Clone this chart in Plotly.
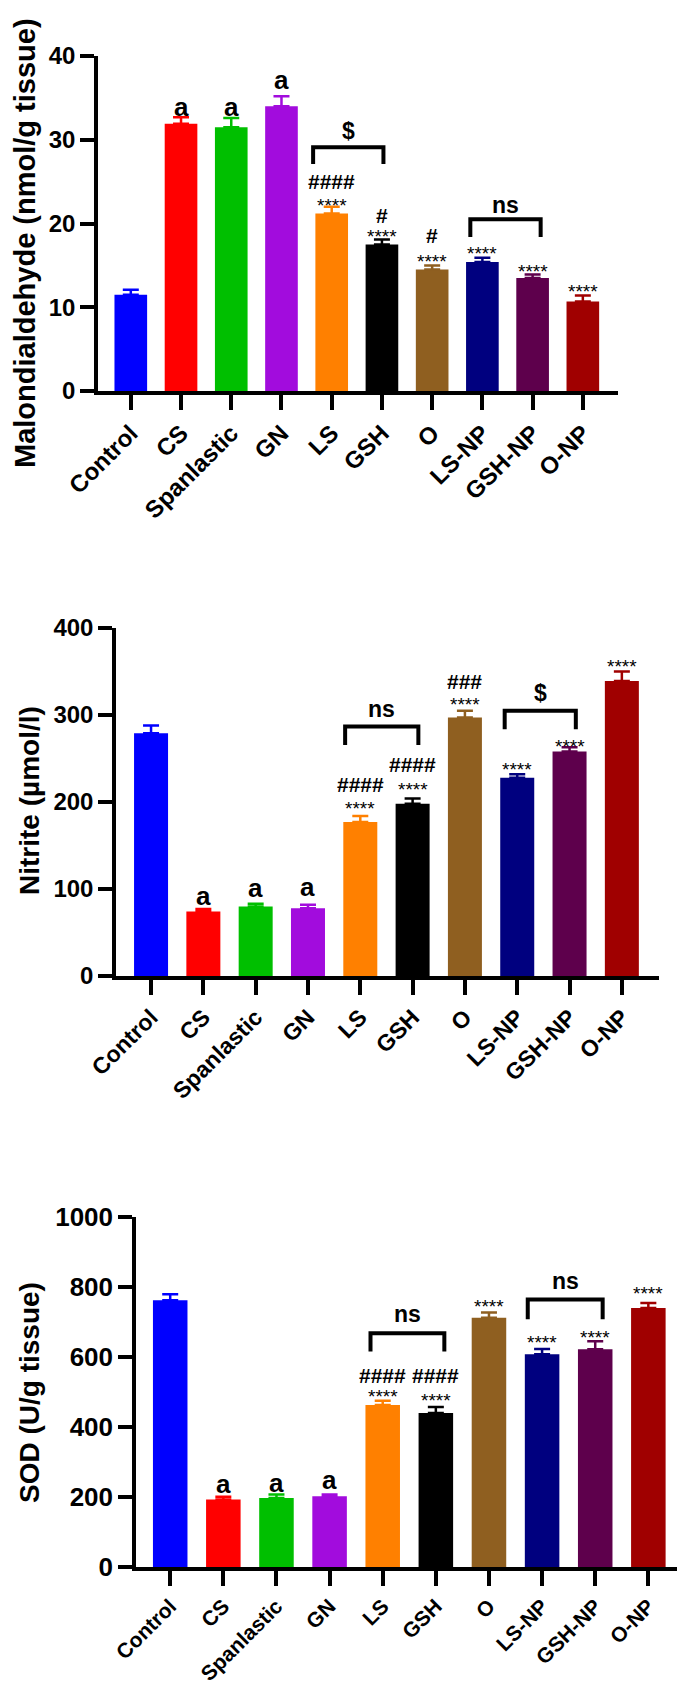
import plotly.graph_objects as go

W, H = 685, 1697

groups = ["Control", "CS", "Spanlastic", "GN", "LS", "GSH", "O", "LS-NP", "GSH-NP", "O-NP"]
colors = ["#0000FF", "#FF0000", "#00BF00", "#A20CDD", "#FF8000",
          "#000000", "#8F5F20", "#00007F", "#5E004C", "#A00000"]

# panel 1 - malondialdehyde
mda_mean = [11.5, 31.9, 31.5, 34.0, 21.2, 17.5, 14.5, 15.4, 13.5, 10.7]
mda_sem = [0.6, 0.8, 1.1, 1.2, 0.8, 0.6, 0.5, 0.5, 0.4, 0.7]

# panel 2 - nitrite
nitrite_mean = [279, 74, 80, 78, 177, 198, 297, 228, 258, 339]
nitrite_sem = [9, 3, 3, 4, 7, 6, 8, 4, 5, 11]

# panel 3 - SOD
sod_mean = [762, 193, 197, 202, 463, 440, 712, 608, 622, 740]
sod_sem = [17, 8, 10, 5, 12, 17, 15, 15, 23, 14]

# significance marks: (bar index, text, y)
mda_marks = [(1, "a", 33.8), (2, "a", 33.8), (3, "a", 37.0),
             (4, "####", 25.0), (4, "****", 22.8),
             (5, "#", 20.9), (5, "****", 19.1),
             (6, "#", 18.6), (6, "****", 16.0),
             (7, "****", 17.0), (8, "****", 14.9), (9, "****", 12.5)]
nitrite_marks = [(1, "a", 91), (2, "a", 100), (3, "a", 100.6),
                 (4, "####", 220), (4, "****", 198.5),
                 (5, "####", 242.6), (5, "****", 219.6),
                 (6, "###", 338.6), (6, "****", 317.5),
                 (7, "****", 242.6), (8, "****", 270), (9, "****", 361.6)]
sod_marks = [(1, "a", 234.7), (2, "a", 236.8), (3, "a", 245),
             (4, "####", 547), (4, "****", 501),
             (5, "####", 547), (5, "****", 489),
             (6, "****", 759), (7, "****", 656), (8, "****", 670.5), (9, "****", 795)]

# brackets: (left x, right x, top y, leg y, label, label y)
mda_brackets = [(3.63, 5.03, 29.1, 27.1, "$", 31.0), (6.76, 8.16, 20.5, 18.4, "ns", 22.2)]
nitrite_brackets = [(3.71, 5.11, 286.8, 265.6, "ns", 307), (6.76, 8.12, 305, 283.7, "$", 325)]
sod_brackets = [(3.77, 5.16, 668, 616, "ns", 722), (6.73, 8.14, 764, 708, "ns", 816)]

FONT = "Liberation Sans, Arial, sans-serif"

# pixel boxes of each plot area: (left, right, top, bottom)
panels = [
    dict(mean=mda_mean, sem=mda_sem, marks=mda_marks, brackets=mda_brackets,
         box=(90, 610, 48, 383), xr=[-0.653, 9.70], yr=[0, 40], dtick=10,
         title="Malondialdehyde (nmol/g tissue)", tx=17, ty=235, tsize=29, xfs=24, yfs=24),
    dict(mean=nitrite_mean, sem=nitrite_sem, marks=nitrite_marks, brackets=nitrite_brackets,
         box=(108, 651, 620, 968), xr=[-0.67, 9.71], yr=[0, 400], dtick=100,
         title="Nitrite (µmol/l)", tx=21, ty=793, tsize=28, xfs=23, yfs=24),
    dict(mean=sod_mean, sem=sod_sem, marks=sod_marks, brackets=sod_brackets,
         box=(128, 677, 1209, 1559), xr=[-0.644, 9.69], yr=[0, 1000], dtick=200,
         title="SOD (U/g tissue)", tx=21, ty=1385, tsize=28, xfs=21, yfs=26),
]

fig = go.Figure()
annotations = []
shapes = []
layout_axes = {}

for k, p in enumerate(panels):
    n = "" if k == 0 else str(k + 1)
    xa, ya = "x" + n, "y" + n
    for i, g in enumerate(groups):
        fig.add_trace(go.Bar(
            x=[i], y=[p["mean"][i]], width=0.65, name=g, showlegend=False,
            marker=dict(color=colors[i], line=dict(width=0)),
            error_y=dict(type="data", array=[p["sem"][i]], arrayminus=[0], symmetric=False,
                         color=colors[i], thickness=2.5, width=8),
            xaxis=xa, yaxis=ya,
        ))

    l, r, t, b = p["box"]
    layout_axes["xaxis" + n] = dict(
        domain=[l / W, r / W], range=p["xr"], anchor=ya, automargin=False,
        tickvals=list(range(len(groups))), ticktext=groups, tickangle=-45,
        ticks="outside", ticklen=15, tickwidth=3.5, tickcolor="black",
        showline=True, linewidth=3.5, linecolor="black",
        showgrid=False, zeroline=False,
        tickfont=dict(family=FONT, size=p["xfs"], color="black", weight="bold"),
    )
    layout_axes["yaxis" + n] = dict(
        domain=[1 - b / H, 1 - t / H], range=p["yr"], dtick=p["dtick"], anchor=xa,
        automargin=False,
        ticks="outside", ticklen=14, tickwidth=3.5, tickcolor="black",
        showline=True, linewidth=3.5, linecolor="black",
        showgrid=False, zeroline=False,
        tickfont=dict(family=FONT, size=p["yfs"], color="black", weight="bold"),
    )

    annotations.append(dict(
        text=p["title"], x=p["tx"] / W, y=1 - p["ty"] / H, xref="paper", yref="paper",
        textangle=-90, showarrow=False, xanchor="center", yanchor="middle",
        font=dict(family=FONT, size=p["tsize"], color="black", weight="bold"),
    ))

    for i, txt, yv in p["marks"]:
        if txt.startswith("*"):
            f = dict(family=FONT, size=19, color="black")
            shift = -5
        elif txt.startswith("#"):
            f = dict(family=FONT, size=21, color="black", weight="bold")
            shift = 0
        else:
            f = dict(family=FONT, size=26, color="black", weight="bold")
            shift = 1
        annotations.append(dict(
            text=txt, x=i, y=yv, xref=xa, yref=ya, showarrow=False,
            xanchor="center", yanchor="middle", yshift=shift, font=f,
        ))

    for x0, x1, ytop, yleg, lab, ylab in p["brackets"]:
        shapes.append(dict(
            type="path", xref=xa, yref=ya,
            path=f"M {x0},{yleg} L {x0},{ytop} L {x1},{ytop} L {x1},{yleg}",
            line=dict(color="black", width=4),
        ))
        annotations.append(dict(
            text=lab, x=(x0 + x1) / 2, y=ylab, xref=xa, yref=ya, showarrow=False,
            xanchor="center", yanchor="middle",
            font=dict(family=FONT, size=23, color="black", weight="bold"),
        ))

fig.update_layout(
    width=W, height=H,
    margin=dict(l=0, r=0, t=0, b=0),
    paper_bgcolor="white", plot_bgcolor="white",
    barmode="overlay",
    annotations=annotations,
    shapes=shapes,
    **layout_axes,
)

fig.write_html("out.html")
